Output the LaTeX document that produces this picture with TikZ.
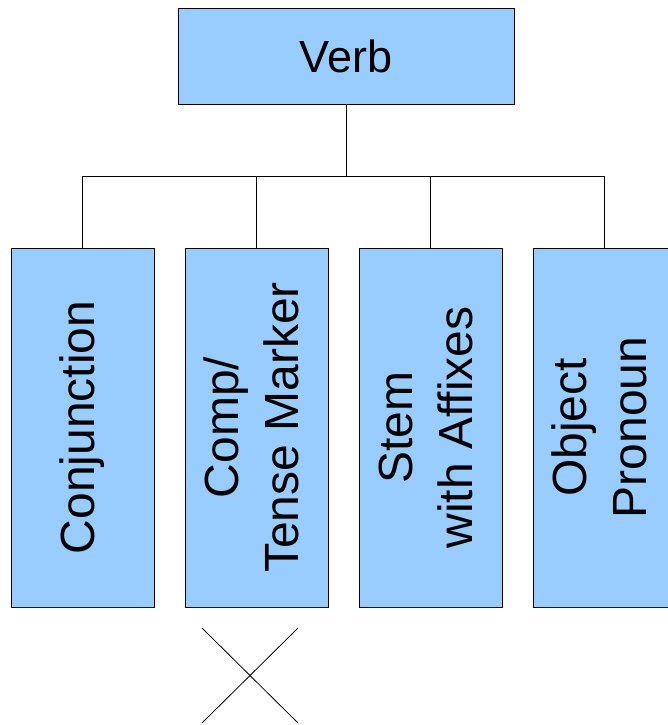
\documentclass[tikz,border=0pt]{standalone}
\usepackage{fontspec}
\setmainfont{Liberation Sans}
\usetikzlibrary{positioning}

\definecolor{boxblue}{HTML}{99CCFF}

\tikzset{
  wordbox/.style={draw=black, line width=1pt, fill=boxblue, inner sep=0pt},
  headbox/.style={wordbox, minimum width=336pt, minimum height=95pt,
    font=\fontsize{45}{54}\selectfont},
  partbox/.style={wordbox, minimum width=143pt, minimum height=359pt,
    font=\fontsize{48}{60}\selectfont},
  branch/.style={line width=1pt}
}

% rotated label, lines centred
\newcommand{\uplabel}[1]{\rotatebox{90}{\begin{tabular}{@{}c@{}}#1\end{tabular}}}

\begin{document}
\begin{tikzpicture}[x=1pt, y=-1pt]

        \useasboundingbox (0,0) rectangle (667,725);

        %Head
        \node [headbox] (verb) at (346,56.5) {Verb};

        %Parts
        \node [partbox] (conj) at (82.5,427.5) {\uplabel{Conjunction}};
        \node [partbox] (comp) at (256.5,427.5) {\uplabel{Comp/\\Tense Marker}};
        \node [partbox] (stem) at (430.5,427.5) {\uplabel{Stem\\with Affixes}};
        \node [partbox] (obj)  at (604.5,427.5) {\uplabel{Object\\Pronoun}};

        %Branches
        \coordinate (bus) at (0,176);
        \draw [branch] (verb.south) -- (verb.south |- bus);
        \draw [branch] (conj.north) -- (conj.north |- bus) -- (obj.north |- bus) -- (obj.north);
        \draw [branch] (comp.north) -- (comp.north |- bus);
        \draw [branch] (stem.north) -- (stem.north |- bus);

        %Cross
        \coordinate (xnw) at (202,628);
        \coordinate (xne) at (298,628);
        \coordinate (xsw) at (202,723);
        \coordinate (xse) at (298,723);
        \draw [line width=0.8pt] (xnw) -- (xse);
        \draw [line width=0.8pt] (xne) -- (xsw);

\end{tikzpicture}
\end{document}
